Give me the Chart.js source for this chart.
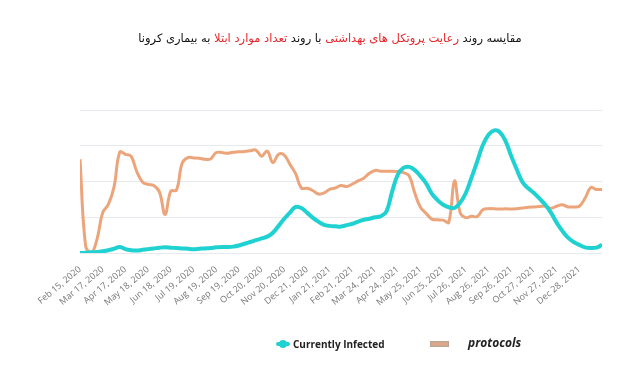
<!DOCTYPE html>
<html>
<head>
<meta charset="utf-8">
<script src="https://cdn.jsdelivr.net/npm/chart.js@4"></script>
<style>
  body { margin: 0; background: #fff; }
  #wrap { position: relative; width: 640px; height: 368px; }
  #titulo {
    position: absolute; top: 31px; left: 0; width: 660px; text-align: center;
    font-family: "DejaVu Sans", sans-serif; font-size: 11.5px; color: #111; direction: rtl;
  }
  #titulo .rojo { color: #e8262b; }
  #leyenda { position: absolute; top: 334px; left: 0; width: 640px; height: 20px; }
  .item { position: absolute; top: 0; font-family: "Open Sans", sans-serif; font-weight: bold; color: #222; }
  .sw-linea { position: absolute; width: 14px; height: 4px; background: #1fd1d1; border-radius: 2px; top: 8px; }
  .sw-punto { position: absolute; width: 8px; height: 8px; background: #1fd1d1; border-radius: 50%; top: 6px; left: 3px; }
  .sw-caja { position: absolute; width: 17px; height: 4px; background: #d9a88c; border: 1px solid #b8a398; top: 7px; }
</style>
</head>
<body>
<div id="wrap">
  <div id="titulo">مقایسه روند <span class="rojo">رعایت پروتکل های بهداشتی</span> با روند <span class="rojo">تعداد موارد ابتلا</span> به بیماری کرونا</div>
  <canvas id="miGrafico" width="640" height="368"></canvas>
  <div id="leyenda">
    <div class="sw-linea" style="left:276px"></div><div class="sw-punto" style="left:279px"></div>
    <div class="item" style="left:293px; font-size:10px; line-height:20px;">Currently Infected</div>
    <div class="sw-caja" style="left:430px"></div>
    <div class="item" style="left:468px; font-size:12px; font-style:italic; line-height:18px;">protocols</div>
  </div>
</div>
<script>
// etiquetas del eje x (una cada ~31 dias)
const etiquetas = [
  "Feb 15, 2020", "Mar 17, 2020", "Apr 17, 2020", "May 18, 2020", "Jun 18, 2020",
  "Jul 19, 2020", "Aug 19, 2020", "Sep 19, 2020", "Oct 20, 2020", "Nov 20, 2020",
  "Dec 21, 2020", "Jan 21, 2021", "Feb 21, 2021", "Mar 24, 2021", "Apr 24, 2021",
  "May 25, 2021", "Jun 25, 2021", "Jul 26, 2021", "Aug 26, 2021", "Sep 26, 2021",
  "Oct 27, 2021", "Nov 27, 2021", "Dec 28, 2021",
];

// valores cada cuarto de intervalo (~8 dias)
const infectados = [
  0.00, 0.01, 0.02, 0.03, 0.05, 0.08, 0.12, 0.17, 0.11, 0.08,
  0.07, 0.09, 0.11, 0.13, 0.15, 0.16, 0.15, 0.14, 0.13, 0.12,
  0.11, 0.12, 0.13, 0.14, 0.16, 0.17, 0.17, 0.18, 0.21, 0.26,
  0.31, 0.36, 0.41, 0.46, 0.57, 0.76, 0.96, 1.13, 1.29, 1.26,
  1.13, 0.99, 0.88, 0.79, 0.76, 0.75, 0.74, 0.78, 0.82, 0.88,
  0.93, 0.96, 1.00, 1.03, 1.16, 1.71, 2.19, 2.38, 2.41, 2.32,
  2.15, 1.95, 1.66, 1.48, 1.35, 1.28, 1.26, 1.41, 1.68, 2.11,
  2.56, 3.02, 3.31, 3.43, 3.38, 3.13, 2.71, 2.33, 1.98, 1.81,
  1.68, 1.52, 1.35, 1.13, 0.85, 0.62, 0.43, 0.31, 0.23, 0.16,
  0.14, 0.15, 0.23,
];

const protocolos = [
  2.62, 0.19, 0.00, 0.39, 1.13, 1.36, 1.85, 2.82, 2.76, 2.71,
  2.28, 1.99, 1.92, 1.89, 1.71, 1.08, 1.73, 1.76, 2.51, 2.67,
  2.66, 2.65, 2.62, 2.63, 2.81, 2.81, 2.79, 2.82, 2.83, 2.84,
  2.86, 2.88, 2.71, 2.85, 2.53, 2.76, 2.74, 2.48, 2.22, 1.82,
  1.81, 1.75, 1.65, 1.68, 1.78, 1.82, 1.89, 1.86, 1.93, 2.02,
  2.09, 2.23, 2.31, 2.29, 2.29, 2.29, 2.28, 2.25, 2.16, 1.68,
  1.28, 1.11, 0.95, 0.93, 0.92, 0.86, 2.02, 1.13, 0.99, 1.03,
  1.02, 1.21, 1.24, 1.24, 1.23, 1.24, 1.23, 1.24, 1.26, 1.28,
  1.29, 1.30, 1.31, 1.25, 1.31, 1.35, 1.29, 1.29, 1.31, 1.53,
  1.83, 1.78, 1.78,
];

const aPuntos = (arr) => arr.map((v, i) => ({ x: i / 4, y: v }));

const ctx = document.getElementById("miGrafico").getContext("2d");

const miGrafico = new Chart(ctx, {
  type: "line",
  data: {
    datasets: [
      {
        label: "Currently Infected",
        data: aPuntos(infectados),
        borderColor: "#1fd1d1",
        borderWidth: 4,
        pointRadius: 0,
        tension: 0.4,
      },
      {
        label: "protocols",
        data: aPuntos(protocolos),
        borderColor: "#eca47a",
        borderWidth: 3,
        pointRadius: 0,
        tension: 0.4,
      },
    ],
  },
  options: {
    responsive: false,
    animation: false,
    layout: { padding: { left: 80, right: 38, top: 110, bottom: 57 } },
    plugins: {
      legend: { display: false },
      tooltip: { enabled: false },
    },
    scales: {
      x: {
        type: "linear",
        min: 0,
        max: 23,
        grid: { display: false },
        border: { display: false },
        ticks: {
          stepSize: 1,
          autoSkip: false,
          minRotation: 40,
          maxRotation: 40,
          color: "#777",
          font: { family: "Open Sans", size: 9 },
          callback: (v) => etiquetas[v] ?? "",
        },
      },
      y: {
        min: 0,
        max: 4,
        grid: { color: "#e6eaef", lineWidth: 1, drawTicks: false },
        border: { display: false },
        ticks: { display: false, stepSize: 1 },
      },
    },
  },
});
</script>
</body>
</html>
